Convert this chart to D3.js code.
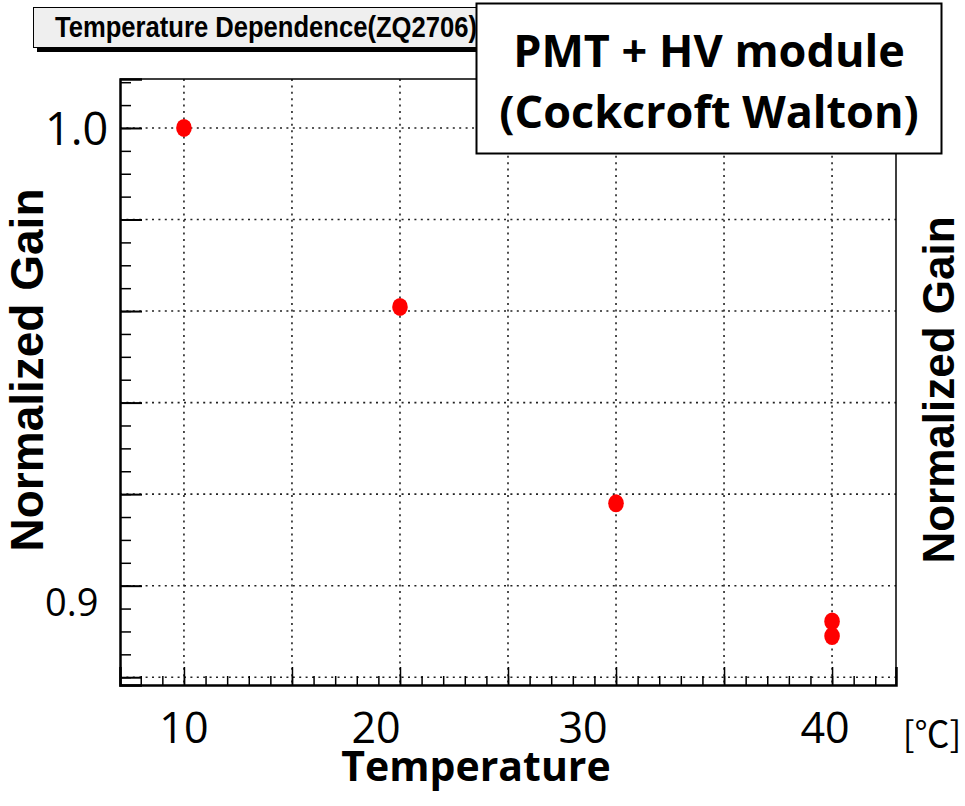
<!DOCTYPE html>
<html>
<head>
<meta charset="utf-8">
<script src="https://cdn.jsdelivr.net/npm/d3@7"></script>
<style>
body { margin: 0; background: #fff; }
</style>
</head>
<body>
<div id="chart"></div>
<script>
// measured points: temperature [°C] vs normalized gain
const temperatures = [10, 20, 30, 40, 40];
const gains = [1.0, 0.9609, 0.918, 0.8922, 0.8890];

const xLabels = ["10", "20", "30", "40"];
const yLabels = ["1.0", "0.9"];
const titleText = "Temperature Dependence(ZQ2706)";
const noteLines = ["PMT + HV module", "(Cockcroft Walton)"];

const W = 965, H = 806;
const frame = { left: 120, top: 79, right: 896, bottom: 685 };

const svg = d3.select("#chart")
  .append("svg")
  .attr("width", W)
  .attr("height", H);

const x = d3.scaleLinear()
  .domain([7.04, 42.96])
  .range([frame.left, frame.right]);

const y = d3.scaleLinear()
  .domain([0.8783, 1.0107])
  .range([frame.bottom, frame.top]);

// grid (dotted)
const gridX = d3.range(10, 41, 5);
const gridY = d3.range(0, 7).map(i => +(0.88 + i * 0.02).toFixed(2));

svg.append("g").selectAll("line")
  .data(gridX)
  .enter().append("line")
  .attr("x1", d => x(d)).attr("x2", d => x(d))
  .attr("y1", frame.top).attr("y2", frame.bottom)
  .attr("stroke", "#222").attr("stroke-width", 1.6)
  .attr("stroke-dasharray", "2,4.4");

svg.append("g").selectAll("line")
  .data(gridY)
  .enter().append("line")
  .attr("x1", frame.left).attr("x2", frame.right)
  .attr("y1", d => y(d)).attr("y2", d => y(d))
  .attr("stroke", "#222").attr("stroke-width", 1.6)
  .attr("stroke-dasharray", "2,4.4");

// frame top / right
svg.append("path")
  .attr("d", `M${frame.left},${frame.top}H${frame.right}V${frame.bottom}`)
  .attr("fill", "none").attr("stroke", "#000").attr("stroke-width", 1.5);

// left axis: minor ticks every 0.005, major every 0.02
const yMinor = d3.range(0, 27).map(i => +(0.88 + i * 0.005).toFixed(3));
svg.append("g")
  .attr("transform", `translate(${frame.left},0)`)
  .call(d3.axisLeft(y).tickValues(yMinor).tickSize(-11).tickFormat(""))
  .call(g => g.selectAll("line").attr("stroke", "#000").attr("stroke-width", 1.5));
svg.append("g")
  .attr("transform", `translate(${frame.left},0)`)
  .call(d3.axisLeft(y).tickValues(gridY).tickSize(-22).tickFormat(""))
  .call(g => g.select(".domain").attr("stroke", "#000").attr("stroke-width", 2.5))
  .call(g => g.selectAll("line").attr("stroke", "#000").attr("stroke-width", 2));

// bottom axis: minor ticks every 1, major every 5
const xMinor = d3.range(8, 43);
svg.append("g")
  .attr("transform", `translate(0,${frame.bottom})`)
  .call(d3.axisBottom(x).tickValues(xMinor).tickSize(-9).tickFormat(""))
  .call(g => g.selectAll("line").attr("stroke", "#000").attr("stroke-width", 1.5));
svg.append("g")
  .attr("transform", `translate(0,${frame.bottom})`)
  .call(d3.axisBottom(x).tickValues(gridX).tickSize(-18).tickFormat(""))
  .call(g => g.select(".domain").attr("stroke", "#000").attr("stroke-width", 2.5))
  .call(g => g.selectAll("line").attr("stroke", "#000").attr("stroke-width", 1.5));

// markers
svg.append("g").selectAll("ellipse")
  .data(temperatures.map((t, i) => ({ t, g: gains[i] })))
  .enter().append("ellipse")
  .attr("cx", d => x(d.t))
  .attr("cy", d => y(d.g))
  .attr("rx", 7.8).attr("ry", 9)
  .attr("fill", "#ff0000");

// big tick labels (overlaid in the slide)
const xLabelNudge = [0, -24, -33, -7];
svg.append("g").selectAll("text")
  .data(xLabels)
  .enter().append("text")
  .attr("x", (d, i) => x(+d) + xLabelNudge[i])
  .attr("y", 743)
  .attr("text-anchor", "middle")
  .attr("font-family", "'Open Sans', sans-serif")
  .attr("font-size", 43)
  .text(d => d);

svg.append("text")
  .attr("x", 45).attr("y", y(1.0) + 17)
  .attr("font-family", "'Open Sans', sans-serif")
  .attr("font-size", 45)
  .text(yLabels[0]);
svg.append("text")
  .attr("x", 45).attr("y", y(0.9) + 30)
  .attr("font-family", "'Open Sans', sans-serif")
  .attr("font-size", 38)
  .text(yLabels[1]);

svg.append("text")
  .attr("x", 932).attr("y", 747)
  .attr("text-anchor", "middle")
  .attr("font-family", "'Noto Sans CJK JP', 'Open Sans', sans-serif")
  .attr("font-size", 35)
  .text("[℃]");

svg.append("text")
  .attr("x", 476).attr("y", 781)
  .attr("text-anchor", "middle")
  .attr("font-family", "'Open Sans', sans-serif")
  .attr("font-weight", "bold")
  .attr("font-size", 41)
  .text("Temperature");

// y titles
svg.append("text")
  .attr("transform", "translate(43,370) rotate(-90)")
  .attr("text-anchor", "middle")
  .attr("font-family", "'Liberation Sans', Arial, sans-serif")
  .attr("font-weight", "bold")
  .attr("font-size", 46)
  .text("Normalized Gain");
svg.append("text")
  .attr("transform", "translate(954,390) rotate(-90)")
  .attr("text-anchor", "middle")
  .attr("font-family", "'Liberation Sans', Arial, sans-serif")
  .attr("font-weight", "bold")
  .attr("font-size", 44)
  .text("Normalized Gain");

// ROOT title pave with shadow
svg.append("rect")
  .attr("x", 37).attr("y", 11).attr("width", 445).attr("height", 41)
  .attr("fill", "#000");
svg.append("rect")
  .attr("x", 33.5).attr("y", 7.5).attr("width", 445).attr("height", 40)
  .attr("fill", "#efefef").attr("stroke", "#000").attr("stroke-width", 1);
svg.append("text")
  .attr("x", 55).attr("y", 37)
  .attr("font-family", "'Liberation Sans', Arial, sans-serif")
  .attr("font-weight", "bold")
  .attr("font-size", 29)
  .attr("textLength", 422)
  .attr("lengthAdjust", "spacingAndGlyphs")
  .text(titleText);

// annotation box
svg.append("rect")
  .attr("x", 476.5).attr("y", 3.5).attr("width", 465).attr("height", 150)
  .attr("fill", "#fff").attr("stroke", "#000").attr("stroke-width", 2);
svg.append("g").selectAll("text")
  .data(noteLines)
  .enter().append("text")
  .attr("x", 709)
  .attr("y", (d, i) => 67 + i * 61)
  .attr("text-anchor", "middle")
  .attr("font-family", "'Open Sans', sans-serif")
  .attr("font-weight", "bold")
  .attr("font-size", 45)
  .text(d => d);
</script>
</body>
</html>
